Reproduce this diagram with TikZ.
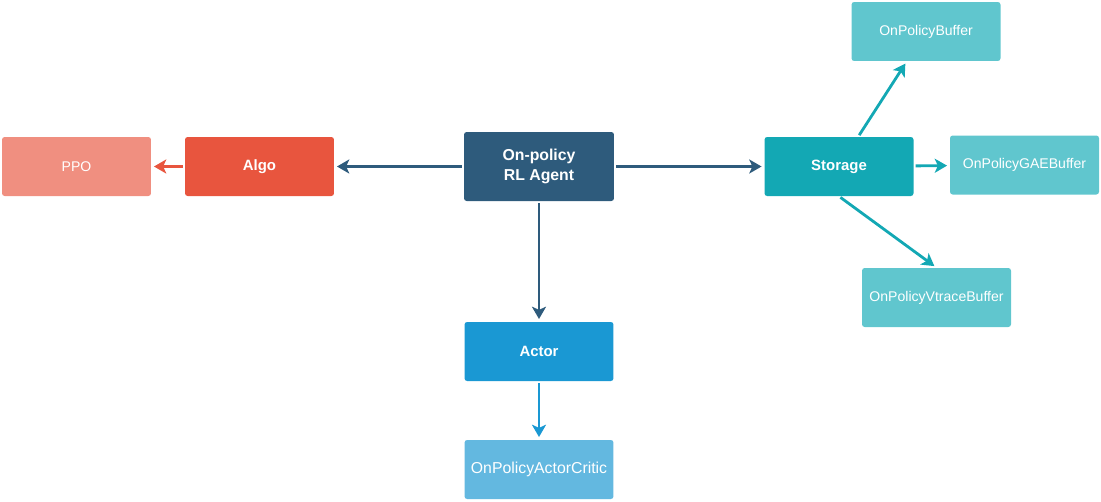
\documentclass[tikz,border=0pt]{standalone}
\usepackage{fontspec}
\setmainfont{Liberation Sans}
\usetikzlibrary{arrows.meta}

\definecolor{algored}{HTML}{E8553E}
\definecolor{ppored}{HTML}{F08F80}
\definecolor{agentblue}{HTML}{2E5B7C}
\definecolor{storteal}{HTML}{13A8B4}
\definecolor{bufteal}{HTML}{60C6CE}
\definecolor{actorblue}{HTML}{1A98D3}
\definecolor{criticblue}{HTML}{63B8E0}

\begin{document}
\begin{tikzpicture}[x=0.02cm,y=-0.02cm,>={Stealth[length=7pt,width=8pt,inset=1.8pt]},
    box/.style={rounded corners=1.5pt,text=white,minimum width=2.98cm,minimum height=1.18cm,
      inner xsep=2pt,align=center,font=\fontsize{8}{10}\selectfont},
    mainbox/.style={box,font=\fontsize{8.5}{10.5}\selectfont\bfseries},
    link/.style={->,line width=1.6pt,shorten <=1pt,shorten >=1.5pt}]
  \useasboundingbox (0,0) rectangle (1101,501);
  % agent in the middle
  \node[mainbox,fill=agentblue,minimum width=3cm,minimum height=1.38cm,
    font=\fontsize{9}{11}\selectfont\bfseries] (agent) at (539,166.5) {On-policy\\RL Agent};
  \node[mainbox,fill=algored] (algo) at (259.5,166.5) {Algo};
  \node[box,fill=ppored] (ppo) at (76.5,166.5) {PPO};
  \node[mainbox,fill=storteal] (storage) at (839,166.5) {Storage};
  \node[box,fill=bufteal] (buf) at (926,31.5) {OnPolicyBuffer};
  \node[box,fill=bufteal] (gae) at (1024.5,165) {OnPolicyGAEBuffer};
  \node[box,fill=bufteal] (vtrace) at (936.5,297.5) {OnPolicyVtraceBuffer};
  \node[mainbox,fill=actorblue] (actor) at (539,351.5) {Actor};
  \node[box,fill=criticblue,font=\fontsize{9}{11}\selectfont] (critic) at (539,469.5) {OnPolicyActorCritic};

  \draw[link,agentblue] (agent) -- (algo);
  \draw[link,algored] (algo) -- (ppo);
  \draw[link,agentblue] (agent) -- (storage);
  \draw[link,agentblue] (agent) -- (actor);
  \draw[link,actorblue] (actor) -- (critic);
  \draw[link,storteal] (storage) -- (buf);
  \draw[link,storteal] (storage) -- (gae);
  \draw[link,storteal] (storage.south) -- (vtrace.north);
\end{tikzpicture}
\end{document}
